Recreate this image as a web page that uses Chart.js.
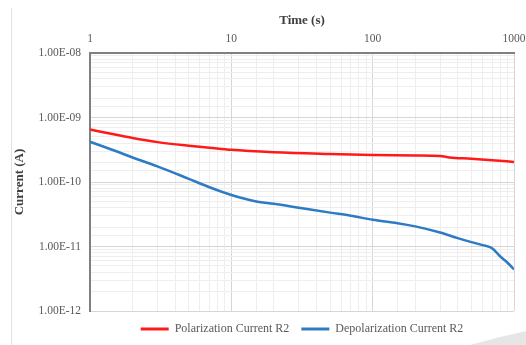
<!DOCTYPE html>
<html>
<head>
<meta charset="utf-8">
<script src="https://cdn.jsdelivr.net/npm/chart.js@4.4.1/dist/chart.umd.min.js"></script>
<style>
  html, body { margin: 0; padding: 0; background: #fff; }
  #wrap { position: relative; width: 526px; height: 345px; overflow: hidden; }
  #edge { position: absolute; left: 11px; top: 8px; width: 1px; height: 337px; background: #e2e2e2; }
  #swoosh { position: absolute; left: 0; top: 0; width: 526px; height: 345px; background: #e6e6e6;
            clip-path: polygon(470px 345px, 500px 337px, 526px 331px, 526px 345px); }
  canvas { position: absolute; left: 0; top: 0; }
</style>
</head>
<body>
<div id="wrap">
  <div id="edge"></div>
  <div id="swoosh"></div>
  <canvas id="currentChart" width="526" height="345"></canvas>
</div>
<script>
// polarization run (s, A)
var polTime    = [1, 1.5, 2, 3, 5, 7, 10, 20, 50, 100, 200, 300, 350, 500, 700, 1000];
var polCurrent = [6.5e-10, 5.45e-10, 4.8e-10, 4.15e-10, 3.65e-10, 3.4e-10, 3.15e-10, 2.9e-10,
                  2.72e-10, 2.62e-10, 2.57e-10, 2.53e-10, 2.4e-10, 2.3e-10, 2.18e-10, 2.05e-10];

// depolarization run (s, A)
var depTime    = [1, 1.5, 2, 3, 5, 7, 10, 15, 20, 30, 50, 70, 100, 150, 200, 300, 400, 500,
                  600, 700, 800, 900, 1000];
var depCurrent = [4.2e-10, 3.05e-10, 2.4e-10, 1.75e-10, 1.12e-10, 8.3e-11, 6.3e-11, 5.0e-11,
                  4.6e-11, 4.0e-11, 3.35e-11, 3.0e-11, 2.6e-11, 2.3e-11, 2.05e-11, 1.65e-11,
                  1.35e-11, 1.17e-11, 1.05e-11, 9.4e-12, 7.0e-12, 5.6e-12, 4.4e-12];

var timeTicks    = [1, 10, 100, 1000];
var currentTicks = [1e-12, 1e-11, 1e-10, 1e-9, 1e-8];

var FONT = '"Liberation Serif", "Times New Roman", serif';

function isDecade(v) {
    var e = Math.log10(v);
    return Math.abs(e - Math.round(e)) < 1e-6;
}

function sci(v) {
    // 1e-8 -> 1.00E-08
    return v.toExponential(2).toUpperCase().replace(/E([+-])(\d)$/, 'E$10$2');
}

function gridColor(ctx) {
    if (!ctx.tick) return '#eeeeee';
    return isDecade(ctx.tick.value) ? '#d6d6d6' : '#eeeeee';
}

function toPoints(xs, ys) {
    return xs.map(function(x, i) { return { x: x, y: ys[i] }; });
}

var ctx = document.getElementById('currentChart').getContext('2d');
var chart = new Chart(ctx, {
    type: 'line',
    data: {
        datasets: [{
            label: 'Polarization Current R2',
            data: toPoints(polTime, polCurrent),
            borderColor: '#ff1a1a',
            backgroundColor: '#ff1a1a',
            borderWidth: 2.5,
            pointRadius: 0,
            cubicInterpolationMode: 'monotone'
        }, {
            label: 'Depolarization Current R2',
            data: toPoints(depTime, depCurrent),
            borderColor: '#2e7bc4',
            backgroundColor: '#2e7bc4',
            borderWidth: 2.5,
            pointRadius: 0,
            cubicInterpolationMode: 'monotone'
        }]
    },
    options: {
        responsive: false,
        animation: false,
        layout: { padding: { top: 8, left: 12, right: 12, bottom: 0 } },
        scales: {
            x: {
                type: 'logarithmic',
                position: 'top',
                min: 1,
                max: 1000,
                afterFit: function(scale) {
                    scale.height = 45;
                    // let the "1000" label hang past the plot edge
                    scale.paddingLeft = 0;
                    scale.paddingRight = 0;
                },
                grid: { color: gridColor, lineWidth: 1, drawTicks: false },
                border: { color: '#808080', width: 2 },
                ticks: {
                    autoSkip: false,
                    maxRotation: 0,
                    padding: 7,
                    color: '#595959',
                    font: { family: FONT, size: 11.5 },
                    callback: function(v) {
                        var r = Math.round(v);
                        return timeTicks.indexOf(r) >= 0 && isDecade(v) ? String(r) : '';
                    }
                },
                title: {
                    display: true,
                    text: 'Time (s)',
                    color: '#404040',
                    padding: { top: 5, bottom: 0 },
                    font: { family: FONT, size: 13, weight: 'bold' }
                }
            },
            y: {
                type: 'logarithmic',
                min: currentTicks[0],
                max: currentTicks[currentTicks.length - 1],
                afterFit: function(scale) { scale.width = 78; },
                grid: { color: gridColor, lineWidth: 1, drawTicks: false },
                border: { color: '#808080', width: 2 },
                ticks: {
                    autoSkip: false,
                    padding: 9,
                    color: '#595959',
                    font: { family: FONT, size: 11.5 },
                    callback: function(v) { return isDecade(v) ? sci(v) : ''; }
                },
                title: {
                    display: true,
                    text: 'Current (A)',
                    color: '#404040',
                    padding: { top: 0, bottom: 0 },
                    font: { family: FONT, size: 13, weight: 'bold' }
                }
            }
        },
        plugins: {
            tooltip: { enabled: false },
            legend: {
                position: 'bottom',
                fullSize: false,
                labels: {
                    boxWidth: 28,
                    boxHeight: 3,
                    padding: 12,
                    color: '#595959',
                    font: { family: FONT, size: 12 },
                    generateLabels: function(chart) {
                        return Chart.defaults.plugins.legend.labels.generateLabels(chart).map(function(item) {
                            item.fillStyle = item.strokeStyle;
                            item.lineWidth = 0;
                            return item;
                        });
                    }
                }
            }
        }
    }
});
</script>
</body>
</html>
